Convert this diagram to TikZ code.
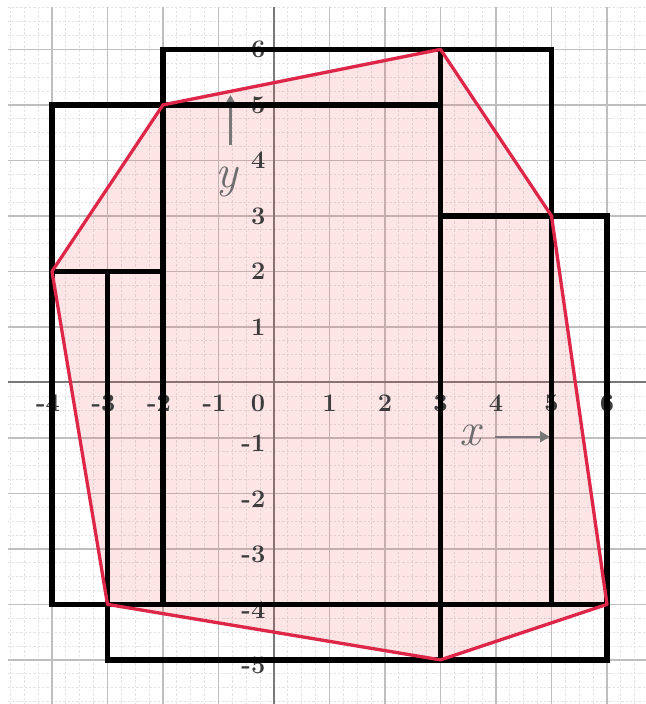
\documentclass[tikz,border=0pt]{standalone}
\usetikzlibrary{arrows.meta}
\definecolor{polyred}{RGB}{222,38,72}
\definecolor{polyfill}{RGB}{240,80,90}
\definecolor{labgray}{RGB}{60,60,60}
\definecolor{axgray}{RGB}{120,120,120}
\begin{document}
\begin{tikzpicture}[x=1cm,y=1cm,
  minorgrid/.style={gray!22, line width=0.45pt, dash pattern=on 1.2pt off 1pt},
  majorgrid/.style={gray!50, line width=0.7pt},
  axisline/.style={axgray, line width=1pt},
  rectline/.style={black, line width=2.7pt, line cap=rect},
  polyline/.style={polyred, line width=1.7pt, line join=round},
  polyarea/.style={fill=polyfill, fill opacity=0.15},
  numlab/.style={font=\fontsize{13}{15}\selectfont\bfseries, text=labgray, inner sep=0pt},
  varlab/.style={font=\fontsize{24}{26}\selectfont\itshape, text=axgray!90!black, inner sep=0pt},
  varArrow/.style={axgray, line width=1.1pt, -{Triangle[length=5pt,width=5.5pt]}}
]
\useasboundingbox (-4.937,-5.795) rectangle (6.685,6.89);
% grid
\draw[minorgrid] (-4.8,-5.8) grid[step=0.25] (6.7,6.76);
\draw[majorgrid] (-4.8,-5.8) grid[step=1] (6.7,6.76);
% axes
\coordinate (xaL) at (-4.8,0);
\coordinate (xaR) at (6.7,0);
\coordinate (yaB) at (0,-5.8);
\coordinate (yaT) at (0,6.76);
\draw[axisline] (xaL) -- (xaR);
\draw[axisline] (yaB) -- (yaT);
% polygon vertices
\coordinate (A) at (-4,2);
\coordinate (B) at (-2,5);
\coordinate (C) at (3,6);
\coordinate (D) at (5,3);
\coordinate (E) at (6,-4);
\coordinate (F) at (3,-5);
\coordinate (G) at (-3,-4);
\path[polyarea] (A) -- (B) -- (C) -- (D) -- (E) -- (F) -- (G) -- cycle;
% axis labels
\foreach \v in {1,...,6} {
  \node[numlab] (xl\v) at (\v,-0.37) {\v};
}
\foreach \v/\n in {-4/m4,-3/m3,-2/m2,-1/m1} {
  \node[numlab, anchor=east] (xl\n) at (\v+0.15,-0.37) {\v};
}
\node[numlab] (zero) at (-0.29,-0.37) {0};
\foreach \v in {1,...,6} {
  \node[numlab, anchor=east] (yl\v) at (-0.15,\v) {\v};
}
\foreach \v/\n in {-1/m1,-2/m2,-3/m3,-4/m4,-5/m5} {
  \node[numlab, anchor=east] (yl\n) at (-0.15,\v-0.1) {\v};
}
% variable labels with arrows
\node[varlab] (xname) at (3.53,-0.95) {x};
\coordinate (xarS) at (3.98,-0.98);
\coordinate (xarE) at (4.97,-0.98);
\draw[varArrow] (xarS) -- (xarE);
\node[varlab] (yname) at (-0.86,3.62) {y};
\coordinate (yarS) at (-0.785,4.28);
\coordinate (yarE) at (-0.785,5.18);
\draw[varArrow] (yarS) -- (yarE);
% black rectangle edges
\draw[rectline] (-2,6) -- (5,6);
\draw[rectline] (-4,5) -- (3,5);
\draw[rectline] (3,3) -- (6,3);
\draw[rectline] (-4,2) -- (-2,2);
\draw[rectline] (-4,-4) -- (6,-4);
\draw[rectline] (-3,-5) -- (6,-5);
\draw[rectline] (-4,-4) -- (-4,5);
\draw[rectline] (-3,-5) -- (-3,2);
\draw[rectline] (-2,-4) -- (-2,6);
\draw[rectline] (3,-5) -- (3,6);
\draw[rectline] (5,-4) -- (5,6);
\draw[rectline] (6,-5) -- (6,3);
% red outline
\draw[polyline] (A) -- (B) -- (C) -- (D) -- (E) -- (F) -- (G) -- cycle;
\end{tikzpicture}
\end{document}
